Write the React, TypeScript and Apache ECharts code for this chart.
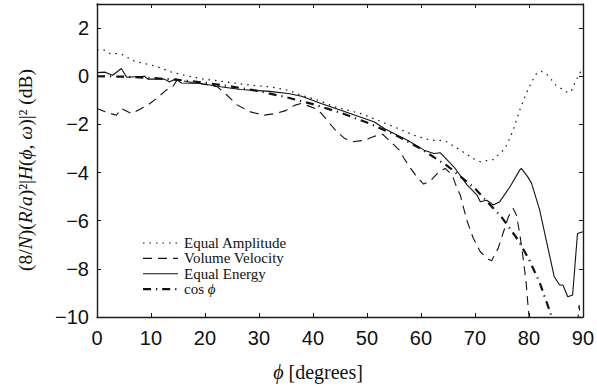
import React, { useEffect, useRef } from "react";
import * as echarts from "echarts";

// ---- data ----
const eaPhi = [0, 1.5, 2.4, 3.9, 5.1, 6.4, 8.8, 11.2, 13.7, 16.2, 19.2, 24.1, 28.4, 32, 35.4, 37.9, 41, 44, 48.9, 52, 55, 58.7, 61.8, 63.6, 64.8, 67.3, 69.7, 71, 73.4, 75.6, 77.1, 78.3, 79.5, 80.5, 81.4, 82.3, 83.5, 85, 86.9, 87.8, 88.7, 89.6, 90];
const eaDb = [1.1, 1.08, 0.94, 0.94, 0.87, 0.66, 0.53, 0.39, 0.18, 0.04, -0.1, -0.24, -0.37, -0.44, -0.58, -0.79, -1.0, -1.27, -1.55, -1.83, -2.1, -2.45, -2.66, -2.66, -2.72, -3.07, -3.42, -3.55, -3.46, -3.0, -2.24, -1.41, -0.72, -0.24, 0.11, 0.21, 0.04, -0.37, -0.65, -0.65, -0.17, 0.18, 0.12];

const vvPhi = [0, 1.5, 3.6, 4.5, 6.4, 7.6, 9.4, 11, 12.8, 14, 14.9, 16.5, 19, 22.3, 24.1, 26, 28.4, 30.9, 33, 34.8, 36.7, 37.9, 40.4, 41.6, 43.1, 44.3, 45.9, 47.4, 49.5, 51.4, 52.9, 54.1, 56, 56.9, 58.1, 59, 60.5, 61.8, 63.3, 64.5, 65.8, 66.7, 67.3, 68.5, 69.7, 71, 72.5, 73.1, 74.3, 75.3, 76.2, 77.1, 77.7, 78.3, 78.9, 79.5, 79.9, 80.3, 88.9, 89.3, 89.7];
const vvDb = [-1.34, -1.48, -1.62, -1.34, -1.55, -1.41, -1.2, -0.93, -0.58, -0.44, -0.14, -0.22, -0.3, -0.44, -0.79, -1.2, -1.48, -1.62, -1.55, -1.44, -1.2, -1.13, -1.34, -1.55, -1.96, -2.27, -2.59, -2.72, -2.66, -2.49, -2.41, -2.66, -3.07, -3.42, -3.83, -4.11, -4.48, -4.34, -3.97, -3.83, -4.11, -4.66, -4.94, -5.98, -6.73, -7.29, -7.6, -7.66, -7.15, -6.46, -5.84, -5.49, -5.77, -6.53, -7.5, -8.6, -9.7, -10.6, -10.6, -9.5, -10.4];

const eePhi = [0, 1.5, 2.9, 4.5, 5.5, 8.8, 9.4, 12.5, 13.4, 14.6, 15.6, 19.2, 22.9, 26.6, 32, 35.4, 37.9, 41.5, 46.5, 51.4, 53.2, 55, 57.5, 60.6, 62.4, 63.6, 66.1, 68.5, 70.4, 71, 72.2, 73.4, 74.6, 76.5, 78.3, 78.6, 79.8, 80.5, 82, 83.2, 84.7, 85.7, 86.3, 87.2, 88.1, 89, 90];
const eeDb = [0.15, 0.17, 0.04, 0.32, -0.04, 0, -0.12, -0.12, -0.24, -0.1, -0.28, -0.3, -0.44, -0.55, -0.63, -0.72, -0.83, -1.13, -1.52, -1.9, -2.17, -2.38, -2.66, -3.07, -3.21, -3.18, -3.76, -4.5, -4.94, -5.21, -5.15, -5.35, -5.21, -4.59, -3.9, -3.83, -4.18, -4.45, -5.56, -6.8, -8.33, -8.67, -8.67, -9.16, -9.09, -6.53, -6.46];

const cosPhi = [0, 5, 10, 15, 20, 25, 30, 35, 40, 45, 50, 55, 60, 65, 70, 75, 78, 80, 82, 84, 85, 86];
const cosDb = [0, -0.02, -0.07, -0.15, -0.27, -0.43, -0.62, -0.87, -1.16, -1.51, -1.92, -2.41, -3.01, -3.74, -4.66, -5.87, -6.8, -7.6, -8.57, -9.84, -10.6, -11.6];

const seriesNames = ["Equal Amplitude", "Volume Velocity", "Equal Energy", "cos ϕ"];
const xTicks = { min: 0, max: 90, interval: 10 };
const yTicks = { min: -10, max: 3, interval: 2 };

const zip = (xs: number[], ys: number[]) => xs.map((x, i) => [x, ys[i]]);

const TICK_FONT = "'Liberation Sans', Arial, sans-serif";
const SERIF = "'Liberation Serif', 'Times New Roman', serif";
const INK = "#111";

const lineStyles = [
  { width: 1.2, dash: [1.5, 5] as number[] | null },
  { width: 1.1, dash: [9, 6] as number[] | null },
  { width: 1.1, dash: null as number[] | null },
  { width: 2.2, dash: [8, 5, 1.2, 5] as number[] | null },
];

export default function App() {
  const ref = useRef<HTMLDivElement>(null);
  useEffect(() => {
    if (!ref.current) return;
    const chart = echarts.init(ref.current, null, { renderer: "svg" });
    const minus = (v: number) => (v < 0 ? "\u2212" + Math.abs(v) : String(v));
    const axisLine = { show: true, onZero: false, lineStyle: { color: "#1a1a1a", width: 1.4 } };
    const tick = { show: true, inside: true, length: 4, lineStyle: { color: "#1a1a1a", width: 1 } };
    const lineBase = { type: "line" as const, symbol: "none", showSymbol: false, clip: true, smooth: false };

    const legendX = 143;
    const legendTop = 243;
    const legendStep = 15.4;
    const legendGraphics: any[] = [];
    seriesNames.forEach((name, i) => {
      const y = legendTop + i * legendStep;
      const ls = lineStyles[i];
      legendGraphics.push({
        type: "line",
        shape: { x1: legendX, y1: y, x2: legendX + 35, y2: y },
        style: { stroke: INK, lineWidth: ls.width, lineDash: ls.dash || undefined },
      });
      legendGraphics.push({
        type: "text",
        x: legendX + 41,
        y,
        style: {
          text: name === "cos ϕ" ? "cos {i|ϕ}" : name,
          fontFamily: SERIF,
          fontSize: 15,
          fill: INK,
          align: "left",
          verticalAlign: "middle",
          rich: { i: { fontFamily: SERIF, fontSize: 15, fontStyle: "italic", fill: INK } },
        },
      });
    });

    chart.setOption({
      animation: false,
      backgroundColor: "#fff",
      grid: { left: 97, right: 10, top: 4, bottom: 72, containLabel: false },
      xAxis: [
        {
          type: "value", ...xTicks, position: "bottom",
          axisLine, axisTick: tick, splitLine: { show: false },
          axisLabel: { fontFamily: TICK_FONT, fontSize: 20, color: INK, margin: 11 },
        },
        {
          type: "value", ...xTicks, position: "top",
          axisLine, axisTick: tick, splitLine: { show: false }, axisLabel: { show: false },
        },
      ],
      yAxis: [
        {
          type: "value", ...yTicks, position: "left",
          axisLine, axisTick: tick, splitLine: { show: false },
          axisLabel: {
            fontFamily: TICK_FONT, fontSize: 20, color: INK, margin: 8, showMaxLabel: false,
            formatter: (v: number) => (v > 2 ? "" : minus(v)),
          },
        },
        {
          type: "value", ...yTicks, position: "right",
          axisLine, axisTick: tick, splitLine: { show: false }, axisLabel: { show: false },
        },
      ],
      graphic: [
        ...legendGraphics,
        {
          type: "text",
          x: 25,
          y: 170,
          rotation: Math.PI / 2,
          style: {
            text: "(8/{i|N})({i|R}/{i|a})²|{i|H}({i|ϕ}, {i|ω})|² (dB)",
            fontFamily: SERIF,
            fontSize: 19.5,
            fill: INK,
            align: "center",
            verticalAlign: "middle",
            rich: {
              i: { fontFamily: SERIF, fontSize: 19.5, fontStyle: "italic", fill: INK },
            },
          },
        },
        {
          type: "text",
          x: 318,
          y: 372,
          style: {
            text: "{i|ϕ} [degrees]",
            fontFamily: SERIF,
            fontSize: 20,
            fill: INK,
            align: "center",
            verticalAlign: "middle",
            rich: {
              i: { fontFamily: SERIF, fontSize: 20, fontStyle: "italic", fill: INK },
            },
          },
        },
      ],
      series: [eaPhi, vvPhi, eePhi, cosPhi].map((phi, i) => ({
        ...lineBase,
        name: seriesNames[i],
        data: zip(phi, [eaDb, vvDb, eeDb, cosDb][i]),
        lineStyle: {
          color: INK,
          width: lineStyles[i].width,
          type: lineStyles[i].dash || "solid",
        },
        itemStyle: { color: INK },
      })),
    });
    return () => chart.dispose();
  }, []);
  return <div ref={ref} style={{ width: 597, height: 389, position: "absolute", left: 0, top: 0 }} />;
}
